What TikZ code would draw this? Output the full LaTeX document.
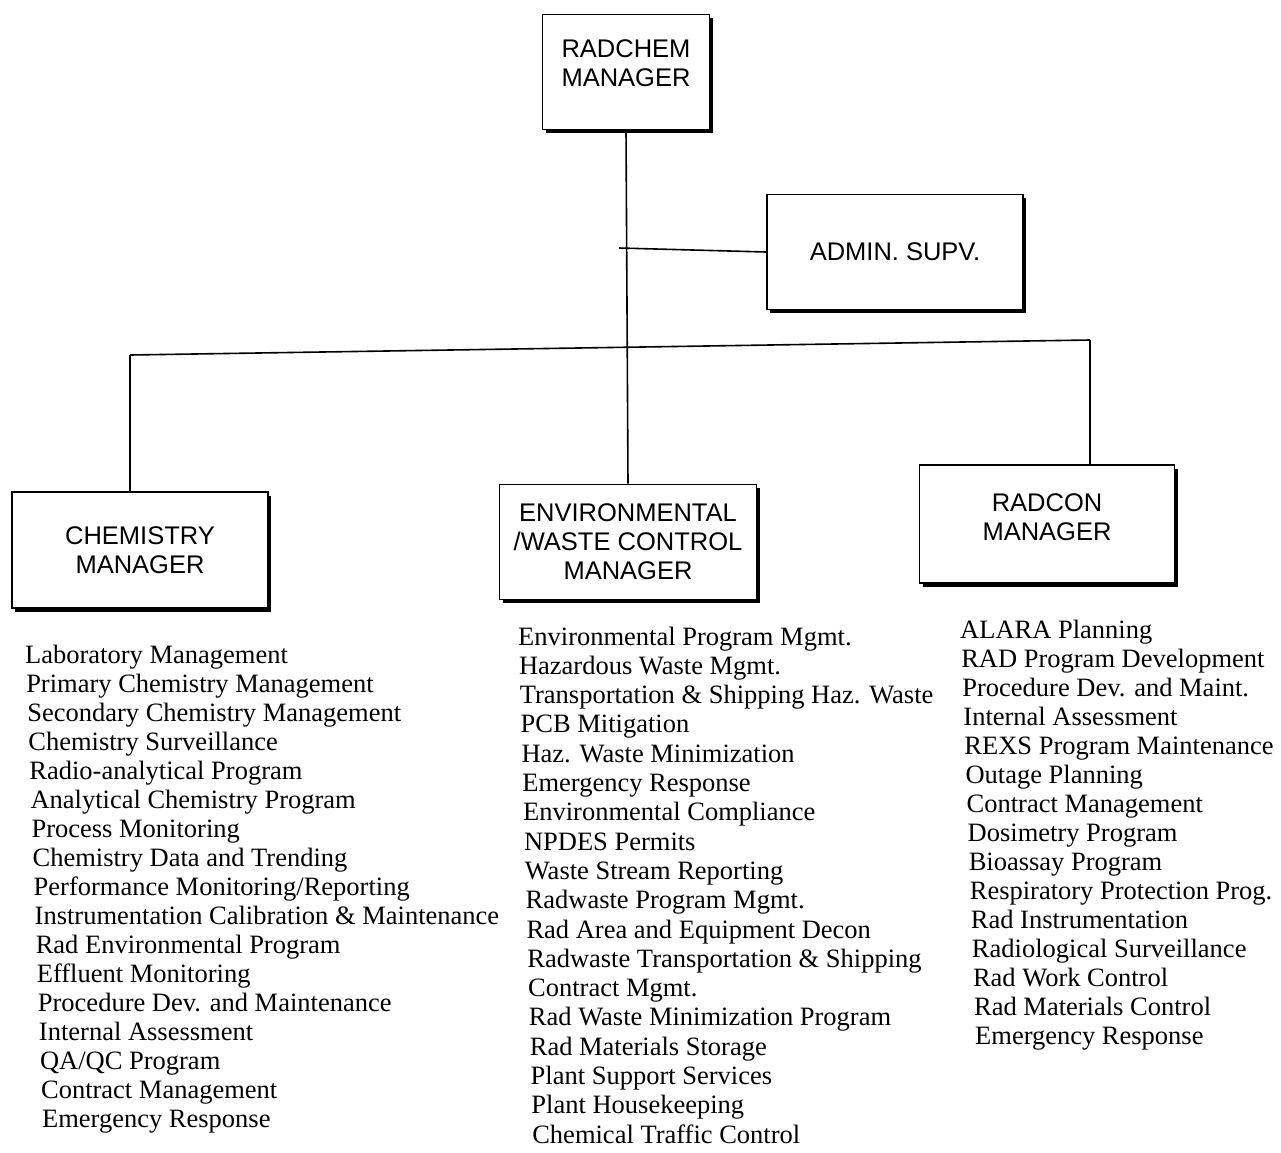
\documentclass[tikz,border=0pt]{standalone}
\usepackage{fontspec}
\setmainfont{Liberation Serif}
\newfontfamily\boxfont{Liberation Sans}
\usetikzlibrary{shadows}
\begin{document}
\begin{tikzpicture}[x=1pt,y=-1pt,
  orgbox/.style={draw, line width=1.6pt, fill=white, align=center, inner sep=0pt,
    font=\boxfont\fontsize{25.5}{29}\selectfont,
    drop shadow={shadow xshift=3pt, shadow yshift=-3.5pt, fill=black, opacity=1}},
  conn/.style={line width=1.6pt},
  item/.style={anchor=base west, inner sep=0pt, font=\fontsize{26.5}{29}\selectfont}]
\useasboundingbox[fill=white] (0,0) rectangle (1281,1152);

\node[orgbox, minimum width=167, minimum height=115] (radchem) at (626,72) {RADCHEM\\MANAGER\\[-12pt]\mbox{}};
\node[orgbox, minimum width=256, minimum height=115] (admin) at (895,252) {ADMIN. SUPV.};
\node[orgbox, minimum width=256, minimum height=116] (chem) at (140,550) {CHEMISTRY\\MANAGER};
\node[orgbox, minimum width=257, minimum height=115] (env) at (628,542) {ENVIRONMENTAL\\/WASTE CONTROL\\MANAGER};
\node[orgbox, minimum width=255, minimum height=118] (radcon) at (1047,524) {RADCON\\MANAGER\\[-16pt]\mbox{}};

\coordinate (busL) at (130,355);
\coordinate (busR) at (1090,340);
\coordinate (adminJ) at (619,248);

\draw[conn] (radchem.south) -- (env.north);
\draw[conn] (adminJ) -- (admin.west);
\draw[conn] (busL) -- (busR);
\draw[conn] (busL) -- (busL |- chem.north);
\draw[conn] (busR) -- (busR |- radcon.north);

\foreach \t [count=\i from 0] in {Laboratory Management, Primary Chemistry Management, Secondary Chemistry Management, Chemistry Surveillance, Radio-analytical Program, Analytical Chemistry Program, Process Monitoring, Chemistry Data and Trending, Performance Monitoring/Reporting, Instrumentation Calibration \& Maintenance, Rad Environmental Program, Effluent Monitoring, Procedure Dev. and Maintenance, Internal Assessment, QA/QC Program, Contract Management, Emergency Response}
  \node[item] (c\i) at ({25+1.06*\i},{663+29.06*\i}) {\t};

\foreach \t [count=\i from 0] in {Environmental Program Mgmt., Hazardous Waste Mgmt., Transportation \& Shipping Haz. Waste, PCB Mitigation, Haz. Waste Minimization, Emergency Response, Environmental Compliance, NPDES Permits, Waste Stream Reporting, Radwaste Program Mgmt., Rad Area and Equipment Decon, Radwaste Transportation \& Shipping, Contract Mgmt., Rad Waste Minimization Program, Rad Materials Storage, Plant Support Services, Plant Housekeeping, Chemical Traffic Control}
  \node[item] (e\i) at ({518+0.83*\i},{645+29.3*\i}) {\t};

\foreach \t [count=\i from 0] in {ALARA Planning, RAD Program Development, Procedure Dev. and Maint., Internal Assessment, REXS Program Maintenance, Outage Planning, Contract Management, Dosimetry Program, Bioassay Program, Respiratory Protection Prog., Rad Instrumentation, Radiological Surveillance, Rad Work Control, Rad Materials Control, Emergency Response}
  \node[item] (r\i) at ({960+1.07*\i},{638+29*\i}) {\t};
\end{tikzpicture}
\end{document}
